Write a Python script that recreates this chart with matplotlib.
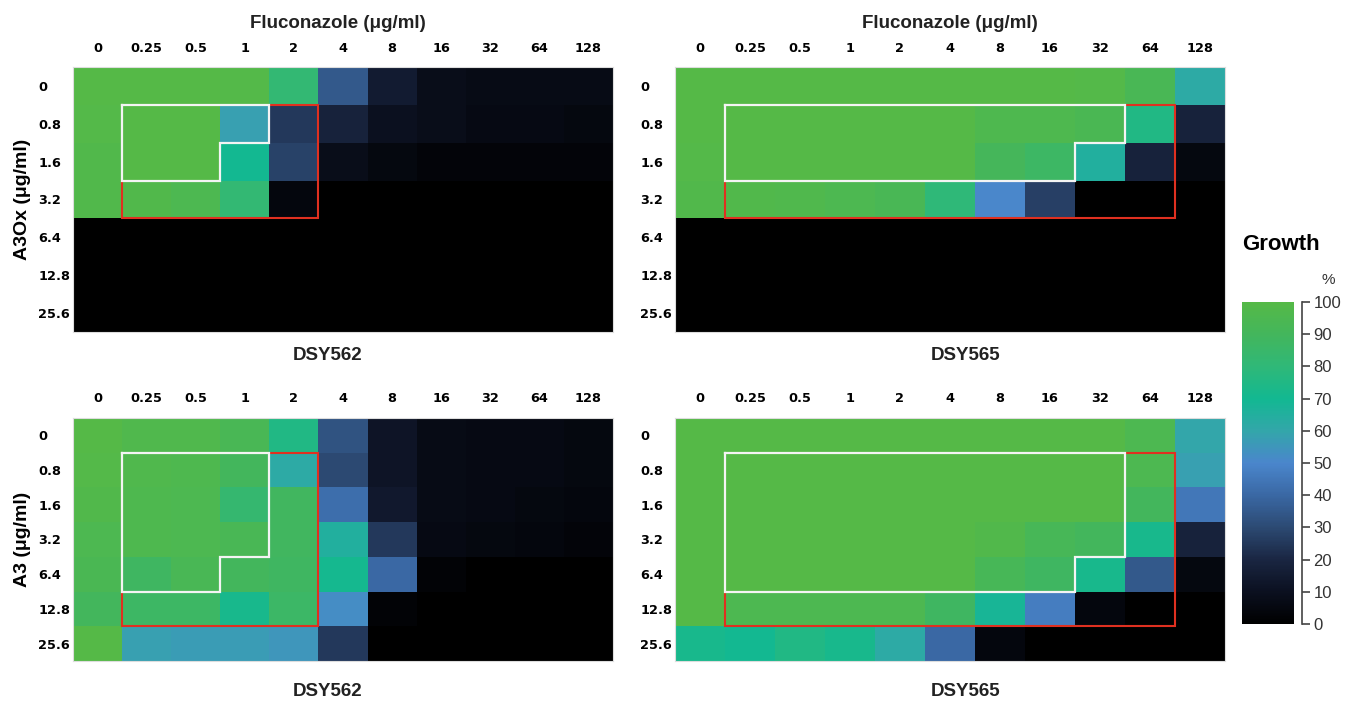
import matplotlib
matplotlib.use('Agg')
import matplotlib.pyplot as plt
import numpy as np
from matplotlib.colors import LinearSegmentedColormap

plt.rcParams['font.family'] = ['Liberation Sans', 'DejaVu Sans']

# concentrations
fluconazole = ['0', '0.25', '0.5', '1', '2', '4', '8', '16', '32', '64', '128']
compound = ['0', '0.8', '1.6', '3.2', '6.4', '12.8', '25.6']

# growth (%), rows = compound conc, cols = fluconazole conc
a3ox_dsy562 = [
    [100, 100, 100, 99, 82, 35, 15, 8, 7, 7, 7],
    [99, 100, 100, 58, 25, 18, 10, 8, 6, 6, 5],
    [98, 100, 100, 70, 28, 8, 5, 3, 3, 3, 3],
    [98, 98, 95, 82, 4, 0, 0, 0, 0, 0, 0],
    [0, 0, 0, 0, 0, 0, 0, 0, 0, 0, 0],
    [0, 0, 0, 0, 0, 0, 0, 0, 0, 0, 0],
    [0, 0, 0, 0, 0, 0, 0, 0, 0, 0, 0],
]
a3ox_dsy565 = [
    [100, 100, 100, 100, 100, 100, 100, 100, 99, 93, 62],
    [100, 100, 100, 100, 100, 100, 96, 96, 94, 75, 18],
    [99, 100, 100, 100, 100, 100, 91, 87, 65, 18, 5],
    [98, 98, 97, 95, 93, 80, 50, 27, 0, 0, 0],
    [0, 0, 0, 0, 0, 0, 0, 0, 0, 0, 0],
    [0, 0, 0, 0, 0, 0, 0, 0, 0, 0, 0],
    [0, 0, 0, 0, 0, 0, 0, 0, 0, 0, 0],
]
a3_dsy562 = [
    [100, 97, 97, 93, 75, 33, 12, 7, 6, 6, 5],
    [99, 97, 96, 90, 62, 30, 12, 7, 6, 6, 5],
    [98, 96, 95, 83, 89, 42, 14, 7, 6, 5, 4],
    [95, 96, 95, 93, 89, 65, 25, 6, 5, 4, 3],
    [94, 88, 93, 90, 88, 71, 40, 2, 0, 0, 0],
    [90, 87, 87, 72, 86, 52, 2, 0, 0, 0, 0],
    [100, 58, 57, 57, 55, 25, 0, 0, 0, 0, 0],
]
a3_dsy565 = [
    [100, 100, 100, 100, 100, 100, 100, 100, 100, 95, 60],
    [100, 100, 100, 100, 100, 100, 100, 100, 100, 95, 58],
    [100, 100, 100, 100, 100, 100, 100, 100, 100, 90, 45],
    [100, 100, 100, 100, 100, 100, 98, 92, 90, 72, 18],
    [100, 100, 100, 100, 100, 100, 92, 88, 72, 35, 5],
    [100, 95, 95, 95, 95, 88, 68, 47, 4, 0, 0],
    [72, 70, 75, 72, 62, 40, 4, 0, 0, 0, 0],
]

# synergy outlines (cell corners), white = inside, red = border region
boxes = {
    'a3ox_dsy562': ([(1, 1), (4, 1), (4, 2), (3, 2), (3, 3), (1, 3), (1, 1)],
                    [(4, 1), (5, 1), (5, 4), (1, 4), (1, 3)]),
    'a3ox_dsy565': ([(1, 1), (9, 1), (9, 2), (8, 2), (8, 3), (1, 3), (1, 1)],
                    [(9, 1), (10, 1), (10, 4), (1, 4), (1, 3)]),
    'a3_dsy562': ([(1, 1), (4, 1), (4, 4), (3, 4), (3, 5), (1, 5), (1, 1)],
                  [(4, 1), (5, 1), (5, 6), (1, 6), (1, 5)]),
    'a3_dsy565': ([(1, 1), (9, 1), (9, 4), (8, 4), (8, 5), (1, 5), (1, 1)],
                  [(9, 1), (10, 1), (10, 6), (1, 6), (1, 5)]),
}

cmap = LinearSegmentedColormap.from_list('growth', [
    (0.0, '#000000'), (0.1, '#0b1020'), (0.2, '#1a2642'), (0.3, '#2c4a73'),
    (0.4, '#3a68a4'), (0.5, '#4a86cc'), (0.6, '#33a6aa'), (0.7, '#12b892'),
    (0.8, '#2fb878'), (0.9, '#43b65c'), (1.0, '#55b947')])

W, H = 1345, 707
fig = plt.figure(figsize=(W / 100, H / 100), dpi=100)


def px(x0, y0, x1, y1):
    return [x0 / W, 1 - y1 / H, (x1 - x0) / W, (y1 - y0) / H]


def heatmap(rect, data, key, ylabel=None):
    ax = fig.add_axes(px(*rect))
    mesh = ax.pcolormesh(np.array(data), cmap=cmap, vmin=0, vmax=100)
    ax.set_xlim(0, 11)
    ax.set_ylim(7, 0)
    ax.xaxis.tick_top()
    ax.set_xticks(np.arange(11) + 0.5)
    ax.set_xticklabels(fluconazole, fontsize=9.3, fontweight='bold', family='DejaVu Sans')
    ax.set_yticks(np.arange(7) + 0.5)
    ax.set_yticklabels(compound, fontsize=9.3, fontweight='bold', family='DejaVu Sans', ha='left')
    ax.tick_params(axis='x', length=0, pad=9)
    ax.tick_params(axis='y', length=0, pad=25)
    for s in ax.spines.values():
        s.set_color('#dddddd')
        s.set_linewidth(0.8)
    white, red = boxes[key]
    ax.plot(*zip(*red), color='#e03020', lw=1.5, solid_joinstyle='miter')
    ax.plot(*zip(*white), color='#f4f4f4', lw=1.6, solid_joinstyle='miter')
    if ylabel:
        ax.set_ylabel(ylabel, fontsize=14, fontweight='bold', labelpad=5)
    return mesh


mesh = heatmap((73, 67, 613, 332), a3ox_dsy562, 'a3ox_dsy562', 'A3Ox (μg/ml)')
heatmap((675, 67, 1225, 332), a3ox_dsy565, 'a3ox_dsy565')
heatmap((73, 418, 613, 661), a3_dsy562, 'a3_dsy562', 'A3 (μg/ml)')
heatmap((675, 418, 1225, 661), a3_dsy565, 'a3_dsy565')

# titles
for x in (338, 950):
    fig.text(x / W, 1 - 23 / H, 'Fluconazole (μg/ml)', fontsize=13.5, fontweight='bold',
             ha='center', va='center', color='#222222')
for x, y, t in [(328, 355, 'DSY562'), (966, 355, 'DSY565'),
                (328, 692, 'DSY562'), (966, 692, 'DSY565')]:
    fig.text(x / W, 1 - y / H, t, fontsize=13.5, fontweight='bold',
             ha='center', va='center', color='#222222')

# colour bar
cax = fig.add_axes(px(1242, 302, 1294, 624))
cb = fig.colorbar(mesh, cax=cax)
cb.outline.set_visible(False)
cax.set_yticks([])

bax = fig.add_axes(px(1302, 302, 1308, 624))
bax.set_ylim(0, 100)
bax.set_xticks([])
for k in ('top', 'right', 'bottom'):
    bax.spines[k].set_visible(False)
bax.spines['left'].set_color('#444444')
bax.spines['left'].set_linewidth(1.2)
bax.patch.set_alpha(0)
bax.set_yticks(range(0, 101, 10))
bax.tick_params(axis='y', direction='in', length=6, width=1.2, color='#444444',
                left=True, right=False, labelleft=False, labelright=True,
                labelsize=12, pad=4, labelcolor='#333333')

fig.text(1242 / W, 1 - 245 / H, 'Growth', fontsize=16, fontweight='bold',
         ha='left', va='center')
fig.text(1328 / W, 1 - 280 / H, '%', fontsize=11, ha='center', va='center', color='#333333')

fig.savefig('out.png', dpi=100)
